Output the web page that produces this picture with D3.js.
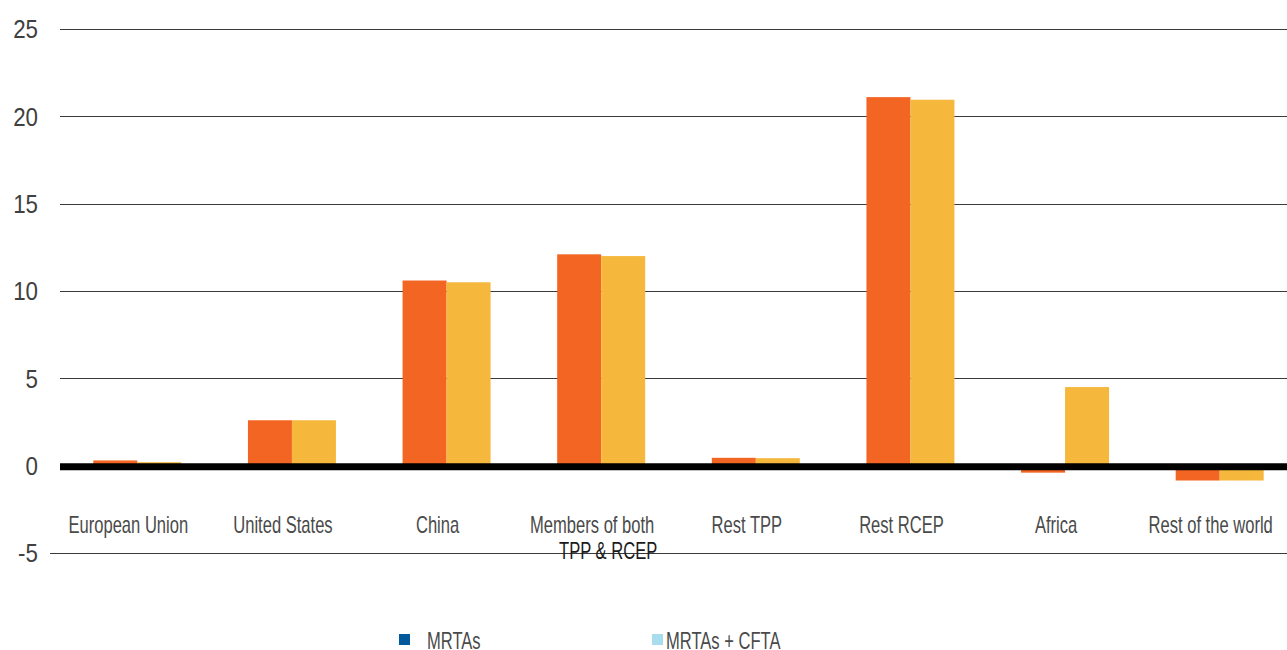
<!DOCTYPE html>
<html>
<head>
<meta charset="utf-8">
<script src="https://cdn.jsdelivr.net/npm/d3@7"></script>
<style>
  body { margin: 0; background: #fff; }
  svg text { font-family: "Liberation Sans", "Arial", sans-serif; }
</style>
</head>
<body>
<div id="chart"></div>
<script>
// chart data
var categories = ["European Union", "United States", "China", "Members of both\nTPP & RCEP",
                  "Rest TPP", "Rest RCEP", "Africa", "Rest of the world"];
var seriesNames = ["MRTAs", "MRTAs + CFTA"];
var mrtas     = [0.3, 2.6, 10.6, 12.1, 0.45, 21.1, -0.4, -0.85];
var mrtasCfta = [0.2, 2.6, 10.5, 12.0, 0.43, 20.95, 4.5, -0.85];
var yTicks = [-5, 0, 5, 10, 15, 20, 25];

var barColors = ["#F26522", "#F5B83D"];
var legendColors = ["#005A9C", "#A8DDEE"];

// condensed look: squeeze text horizontally
var NARROW = 0.72;

function drawChart() {
    var width = 1287, height = 650;

    var svg = d3.select("#chart")
        .append("svg")
        .attr("width", width)
        .attr("height", height);

    var y = d3.scaleLinear().domain([-5, 25]).range([553, 29]);

    // bands run a bit past the right edge, as in the original
    var x0 = d3.scaleBand()
        .domain(categories)
        .range([60, 1297]);

    var bw = x0.bandwidth();
    var x1 = d3.scaleBand()
        .domain(seriesNames)
        .range([(bw - 88) / 2, (bw + 88) / 2]);

    // gridlines
    svg.append("g")
        .selectAll("line")
        .data(yTicks)
        .enter()
        .append("line")
        .attr("x1", function(d) { return d === -5 ? 50 : 60; })
        .attr("x2", 1287)
        .attr("y1", function(d) { return Math.round(y(d)) + 0.5; })
        .attr("y2", function(d) { return Math.round(y(d)) + 0.5; })
        .style("stroke", function(d) { return d === 0 ? "none" : "#3a3a3a"; })
        .style("stroke-width", 1);

    // tick labels
    svg.append("g")
        .selectAll("text")
        .data(yTicks)
        .enter()
        .append("text")
        .attr("transform", function(d) { return "translate(38," + y(d) + ") scale(0.86,1)"; })
        .attr("dy", "0.36em")
        .attr("text-anchor", "end")
        .style("font-size", "26px")
        .style("fill", "#404040")
        .text(function(d) { return d; });

    // bars
    var rows = categories.map(function(c, i) {
        return { cat: c, vals: [mrtas[i], mrtasCfta[i]] };
    });

    var groups = svg.append("g")
        .selectAll("g")
        .data(rows)
        .enter()
        .append("g")
        .attr("transform", function(d) { return "translate(" + x0(d.cat) + ",0)"; });

    groups.selectAll("rect")
        .data(function(d) {
            return d.vals.map(function(v, j) { return { s: seriesNames[j], v: v, j: j }; });
        })
        .enter()
        .append("rect")
        .attr("x", function(d) { return x1(d.s); })
        .attr("width", x1.bandwidth())
        .attr("y", function(d) { return y(Math.max(0, d.v)); })
        .attr("height", function(d) { return Math.abs(y(d.v) - y(0)); })
        .style("fill", function(d) { return barColors[d.j]; });

    // zero line
    svg.append("line")
        .attr("x1", 60)
        .attr("x2", 1287)
        .attr("y1", y(0) + 1)
        .attr("y2", y(0) + 1)
        .style("stroke", "#000")
        .style("stroke-width", 7);

    // category labels
    var labelG = svg.append("g");
    categories.forEach(function(d) {
        var lines = d.split("\n");
        var cx = x0(d) + bw / 2;
        lines.forEach(function(line, k) {
            labelG.append("text")
                .attr("transform", "translate(" + (k === 0 ? cx - 9 : cx + 7) + "," + (533 + k * 26) + ") scale(" + NARROW + ",1)")
                .attr("text-anchor", "middle")
                .style("font-size", "23px")
                .style("fill", k === 0 ? "#4a4a4a" : "#1a1a1a")
                .text(line);
        });
    });

    // legend
    var legendX = [399, 652];
    var legend = svg.append("g")
        .selectAll("g")
        .data(seriesNames)
        .enter()
        .append("g")
        .attr("transform", function(d, i) { return "translate(" + legendX[i] + ",634)"; });

    legend.append("rect")
        .attr("width", 11)
        .attr("height", 11)
        .style("fill", function(d, i) { return legendColors[i]; });

    legend.append("text")
        .attr("transform", function(d, i) { return "translate(" + (i === 0 ? 28 : 14) + ",15) scale(" + NARROW + ",1)"; })
        .style("font-size", "23px")
        .style("fill", "#4a4a4a")
        .text(function(d) { return d; });
}

function whenDocumentLoaded(action) {
    if (document.readyState === "loading") {
        document.addEventListener("DOMContentLoaded", action);
    } else {
        action();
    }
}

whenDocumentLoaded(drawChart);
</script>
</body>
</html>
